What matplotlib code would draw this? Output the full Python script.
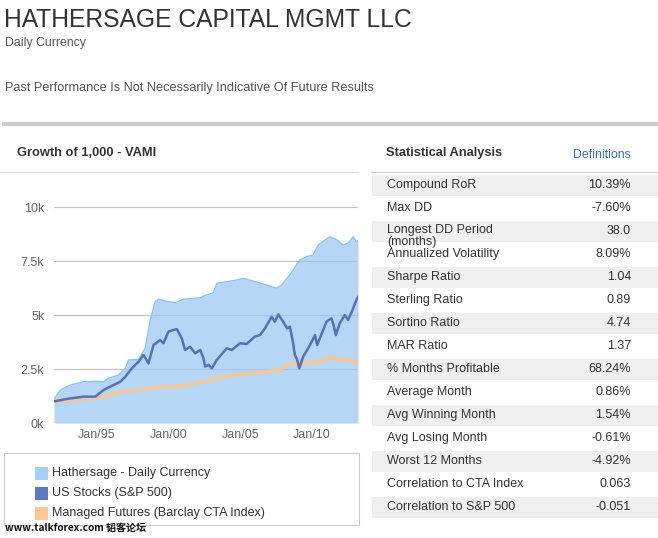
import matplotlib.pyplot as plt
from matplotlib.lines import Line2D
from matplotlib.patches import Rectangle

W_PX, H_PX = 658, 538
DPI = 100
FONT = "Liberation Sans"
TEXT_COLOR = "#333333"

# Hathersage - Daily Currency VAMI (decimal year, value)
hath_years = [1992.0, 1992.45, 1993.14, 1994.07, 1995.0, 1995.46, 1995.8, 1996.5,
              1996.97, 1997.2, 1997.9, 1998.36, 1998.71, 1999.06, 1999.29, 1999.87,
              2000.45, 2001.03, 2001.72, 2002.19, 2002.65, 2003.1, 2003.35, 2004.05,
              2004.74, 2005.2, 2005.9, 2006.83, 2007.5, 2007.87, 2008.45, 2009.15,
              2009.6, 2010.07, 2010.42, 2010.9, 2011.23, 2011.7, 2012.16, 2012.5,
              2012.86, 2013.1, 2013.2]
hath_vals = [1100, 1530, 1760, 1910, 1930, 1910, 2070, 2220,
             2530, 2920, 2950, 3460, 4770, 5620, 5730, 5620,
             5570, 5730, 5770, 5800, 5930, 6020, 6470, 6540,
             6620, 6700, 6570, 6390, 6240, 6390, 6850, 7550,
             7700, 7780, 8240, 8470, 8620, 8500, 8240, 8320,
             8620, 8390, 8450]

# US Stocks (S&P 500)
spx_years = [1992.0, 1993.14, 1994.07, 1994.88, 1995.46, 1996.16, 1996.62, 1996.97,
             1997.43, 1997.9, 1998.24, 1998.59, 1998.94, 1999.4, 1999.63, 1999.98,
             2000.33, 2000.57, 2000.91, 2001.14, 2001.49, 2001.84, 2002.2, 2002.42,
             2002.54, 2002.77, 2003.0, 2003.35, 2004.05, 2004.4, 2004.97, 2005.44,
             2006.0, 2006.36, 2006.71, 2007.18, 2007.4, 2007.64, 2007.98, 2008.26,
             2008.45, 2008.64, 2008.8, 2008.96, 2009.1, 2009.38, 2009.85, 2010.2,
             2010.35, 2010.59, 2011.0, 2011.35, 2011.53, 2011.65, 2011.93, 2012.28,
             2012.51, 2012.82, 2013.13, 2013.2]
spx_vals = [1000, 1140, 1220, 1220, 1530, 1760, 1910, 2140,
            2530, 2840, 3150, 2760, 3610, 3840, 3690, 4230,
            4310, 4340, 3920, 3380, 3530, 3230, 3380, 3000,
            2610, 2690, 2530, 2920, 3460, 3380, 3690, 3660,
            4000, 4070, 4380, 4920, 4690, 5030, 4690, 4380,
            4460, 3840, 3150, 2920, 2530, 3070, 3610, 4070,
            3610, 4000, 4690, 4850, 4460, 4070, 4620, 5000,
            4770, 5230, 5770, 5830]

# Managed Futures (Barclay CTA Index)
cta_years = [1992.0, 1994.9, 1996.4, 1997.8, 1999.2, 2000.3, 2001.5, 2002.2,
             2002.65, 2004.5, 2006.8, 2007.75, 2008.2, 2008.9, 2009.85, 2010.55,
             2011.0, 2011.93, 2012.6, 2013.1, 2013.2]
cta_vals = [1000, 1140, 1370, 1530, 1650, 1680, 1760, 1900,
            1950, 2220, 2380, 2450, 2690, 2790, 2760, 2840,
            3020, 2950, 2920, 2790, 2800]

year_ticks = [1995, 2000, 2005, 2010]
year_labels = ["Jan/95", "Jan/00", "Jan/05", "Jan/10"]
value_ticks = [0, 2500, 5000, 7500, 10000]
value_labels = ["0k", "2.5k", "5k", "7.5k", "10k"]

legend_labels = ["Hathersage - Daily Currency", "US Stocks (S&P 500)",
                 "Managed Futures (Barclay CTA Index)"]

stat_names = ["Compound RoR", "Max DD", "Longest DD Period\n(months)",
              "Annualized Volatility", "Sharpe Ratio", "Sterling Ratio",
              "Sortino Ratio", "MAR Ratio", "% Months Profitable", "Average Month",
              "Avg Winning Month", "Avg Losing Month", "Worst 12 Months",
              "Correlation to CTA Index", "Correlation to S&P 500"]
stat_values = ["10.39%", "-7.60%", "38.0", "8.09%", "1.04", "0.89", "4.74", "1.37",
               "68.24%", "0.86%", "1.54%", "-0.61%", "-4.92%", "0.063", "-0.051"]

HATH_FILL = "#9cc9f1"
HATH_EDGE = "#8fc1ee"
SPX_COLOR = "#5672b5"
CTA_COLOR = "#f7c696"


def fx(x):
    return x / W_PX


def fy(y):
    return 1 - y / H_PX


def hline(fig, x0, x1, y, color, lw):
    fig.add_artist(Line2D([fx(x0), fx(x1)], [fy(y), fy(y)], color=color,
                          linewidth=lw, transform=fig.transFigure))


def put_text(fig, x, y, s, **kw):
    kw.setdefault("family", FONT)
    kw.setdefault("color", TEXT_COLOR)
    kw.setdefault("va", "center")
    fig.text(fx(x), fy(y), s, **kw)


fig = plt.figure(figsize=(W_PX / DPI, H_PX / DPI), dpi=DPI)
fig.patch.set_facecolor("white")

# header
put_text(fig, 4, 20, "HATHERSAGE CAPITAL MGMT LLC", fontsize=17.7)
put_text(fig, 5, 43, "Daily Currency", fontsize=8.8, color="#555555")
put_text(fig, 5, 88, "Past Performance Is Not Necessarily Indicative Of Future Results",
         fontsize=9.2, color="#555555")
hline(fig, 4, 658, 124, "#cccccc", 3)

# panel headers
put_text(fig, 17, 153, "Growth of 1,000 - VAMI", fontsize=9.3, weight="bold")
put_text(fig, 386, 153, "Statistical Analysis", fontsize=9.3, weight="bold")
put_text(fig, 631, 155, "Definitions", fontsize=8.8, color="#3a6fb5", ha="right")
hline(fig, 0, 358, 171.7, "#d8d8d8", 0.8)
hline(fig, 371, 658, 171.7, "#cccccc", 0.8)

# chart
ax = fig.add_axes([fx(54), fy(423), fx(358) - fx(54), (423 - 207) / H_PX])
ax.set_axisbelow(True)
ax.grid(axis="y", color="#c4c4c4", linewidth=0.9)
ax.fill_between(hath_years, hath_vals, 0, color=HATH_FILL, alpha=0.75, linewidth=0)
ax.plot(hath_years, hath_vals, color=HATH_EDGE, linewidth=1.0)
ax.plot(cta_years, cta_vals, color=CTA_COLOR, linewidth=3.0, alpha=0.85,
        solid_capstyle="butt")
ax.plot(spx_years, spx_vals, color=SPX_COLOR, linewidth=1.8)
ax.set_xlim(1992.0, 2013.2)
ax.set_ylim(0, 10000)
ax.set_xticks(year_ticks, labels=year_labels)
ax.set_yticks(value_ticks, labels=value_labels)
ax.tick_params(length=0, labelsize=9, labelcolor="#666666")
ax.tick_params(axis="y", pad=7)
ax.tick_params(axis="x", pad=4)
for label in ax.get_xticklabels() + ax.get_yticklabels():
    label.set_family(FONT)
for side in ["top", "right", "left", "bottom"]:
    ax.spines[side].set_visible(False)

# legend box
fig.add_artist(Rectangle((fx(4), fy(525)), fx(359) - fx(4), (525 - 453) / H_PX,
                         transform=fig.transFigure, facecolor="white",
                         edgecolor="#cccccc", linewidth=0.8))
swatch_colors = ["#a3cff5", "#5b79bb", "#fdc894"]
for i, (lab, col) in enumerate(zip(legend_labels, swatch_colors)):
    yc = 473 + 20 * i
    fig.add_artist(Rectangle((fx(35), fy(yc + 6.5)), 13 / W_PX, 13 / H_PX,
                             transform=fig.transFigure, facecolor=col, linewidth=0))
    put_text(fig, 52, yc, lab, fontsize=9)

# statistics table
for i, (name, val) in enumerate(zip(stat_names, stat_values)):
    yc = 185 + 23 * i
    if i % 2 == 0:
        fig.add_artist(Rectangle((fx(372), fy(yc + 10.5)), fx(658) - fx(372), 21 / H_PX,
                                 transform=fig.transFigure, facecolor="#efefef",
                                 linewidth=0))
    if "\n" in name:
        # the label wraps and runs into the next row, as on the page
        first, second = name.split("\n")
        put_text(fig, 387, yc - 1, first, fontsize=9)
        put_text(fig, 387, yc + 11, second, fontsize=9)
    else:
        put_text(fig, 387, yc, name, fontsize=9)
    put_text(fig, 631, yc, val, fontsize=9, ha="right")

# watermark
fig.text(fx(5), fy(528), "www.talkforex.com 韬客论坛", fontsize=7.2, weight="bold",
         family=["Noto Sans CJK SC", "DejaVu Sans"], color="#111111", va="center")

fig.savefig("out.png", dpi=DPI, facecolor="white")
